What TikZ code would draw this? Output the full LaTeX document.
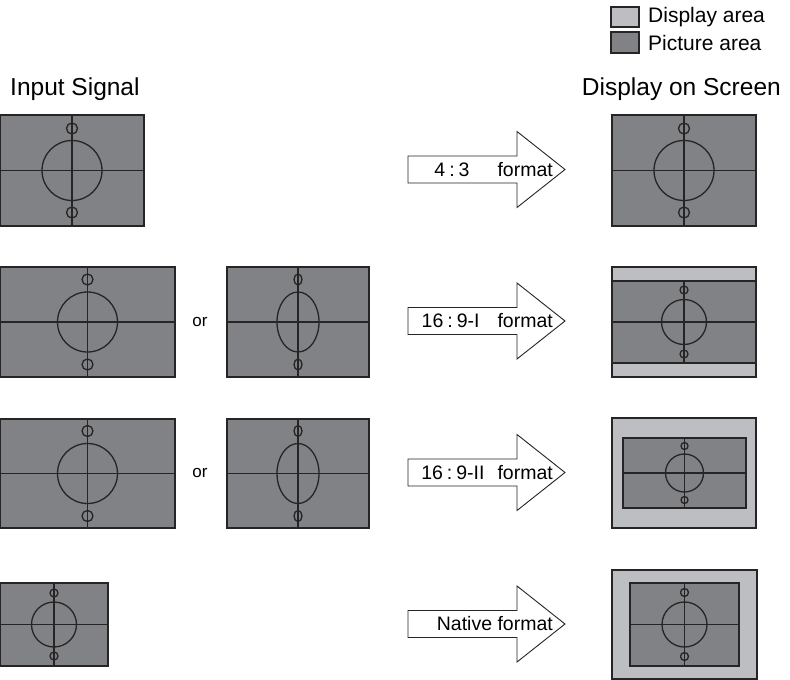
\documentclass[tikz,border=0pt]{standalone}
\usepackage{fontspec}
\setmainfont{Liberation Sans}
\usetikzlibrary{positioning}
\definecolor{picarea}{HTML}{808285}
\definecolor{disparea}{HTML}{BDBEC1}
\definecolor{ink}{HTML}{262425}
\tikzset{
  picbox/.style={draw=ink, line width=1.4pt, fill=picarea},
  dispbox/.style={draw=ink, line width=1.4pt, fill=disparea},
  crossline/.style={draw=ink, line width=1.3pt},
  fmtarrow/.style={draw=ink, line width=0.9pt, fill=white, line join=miter},
  headtxt/.style={font=\fontsize{24.5}{28}\selectfont, inner sep=0pt},
  fmttxt/.style={font=\fontsize{19.5}{22}\selectfont, inner sep=0pt, anchor=east},
  legtxt/.style={font=\fontsize{21}{24}\selectfont, inner sep=0pt, anchor=west},
  ortxt/.style={font=\fontsize{17}{20}\selectfont, inner sep=0pt}
}

\begin{document}
\begin{tikzpicture}[x=1pt,y=-1pt]
  \useasboundingbox (0,0) rectangle (790,680);
  % legend
  \filldraw[dispbox] (611,7) rectangle (639,27);
  \filldraw[picbox] (611,32) rectangle (639,53);
  \node[legtxt] (legdisp) at (648,17) {Display area};
  \node[legtxt] (legpic) at (648,43) {Picture area};
  % column headings
  \node[headtxt, anchor=base west] (insig) at (10,95) {Input Signal};
  \node[headtxt, anchor=base east] (onscr) at (781,95) {Display on Screen};
  % display area behind the picture
  \foreach \xa/\ya/\xb/\yb in {612/267/756/377, 612/418/756/528, 612/570/757/679}
    \filldraw[dispbox] (\xa,\ya) rectangle (\xb,\yb);
  % test cards: corners / circle radii / small circle radii / offset
  \foreach \xa/\ya/\xb/\yb/\rx/\ry/\sx/\sy/\so in {
    0/115/144/226/30/30/5.5/5.5/42,
    612/115/756/226/30/30/5.5/5.5/42,
    0/267/175/377/30/30/5.5/5.5/42.5,
    227/267/369/377/21/30/4/5.5/42.5,
    612/281/756/363/22.5/22.5/4/4/32,
    0/419/175/528/30/30/5.5/5.5/42.5,
    227/419/369/528/21/30/4/5.5/42.5,
    623/438/746/508/19/19/3.5/3.5/27,
    0/583/108/666/22.5/22.5/4/4/31.5,
    630/583/739/666/22.5/22.5/4/4/32} {
    \pgfmathsetmacro\cx{(\xa+\xb)/2}
    \pgfmathsetmacro\cy{(\ya+\yb)/2}
    \fill[picarea] (\xa,\ya) rectangle (\xb,\yb);
    \draw[crossline] (\xa,\cy) -- (\xb,\cy) (\cx,\ya) -- (\cx,\yb);
    \draw[crossline] (\cx,\cy) ellipse [x radius=\rx, y radius=\ry];
    \draw[crossline] (\cx,\cy-\so) ellipse [x radius=\sx, y radius=\sy]
                     (\cx,\cy+\so) ellipse [x radius=\sx, y radius=\sy];
    \draw[picbox, fill=none] (\xa,\ya) rectangle (\xb,\yb);
  }
  \node[ortxt] (or2) at (200,322) {or};
  \node[ortxt] (or3) at (200,473) {or};
  % format arrows
  \foreach \cy/\lab [count=\i] in {
    169.5/{4\hspace{4pt}:\hspace{4pt}3\hspace{28pt}format},
    321/{16\hspace{4pt}:\hspace{4pt}9-I\hspace{18pt}format},
    472.5/{16\hspace{4pt}:\hspace{4pt}9-II\hspace{13pt}format},
    624/{Native format}} {
    \draw[fmtarrow] (408,\cy-13.5) -- (517,\cy-13.5) -- (517,\cy-38) -- (565,\cy)
      -- (517,\cy+38) -- (517,\cy+13.5) -- (408,\cy+13.5) -- cycle;
    \node[fmttxt] (fmt\i) at (553,\cy) {\lab};
  }
\end{tikzpicture}
\end{document}
